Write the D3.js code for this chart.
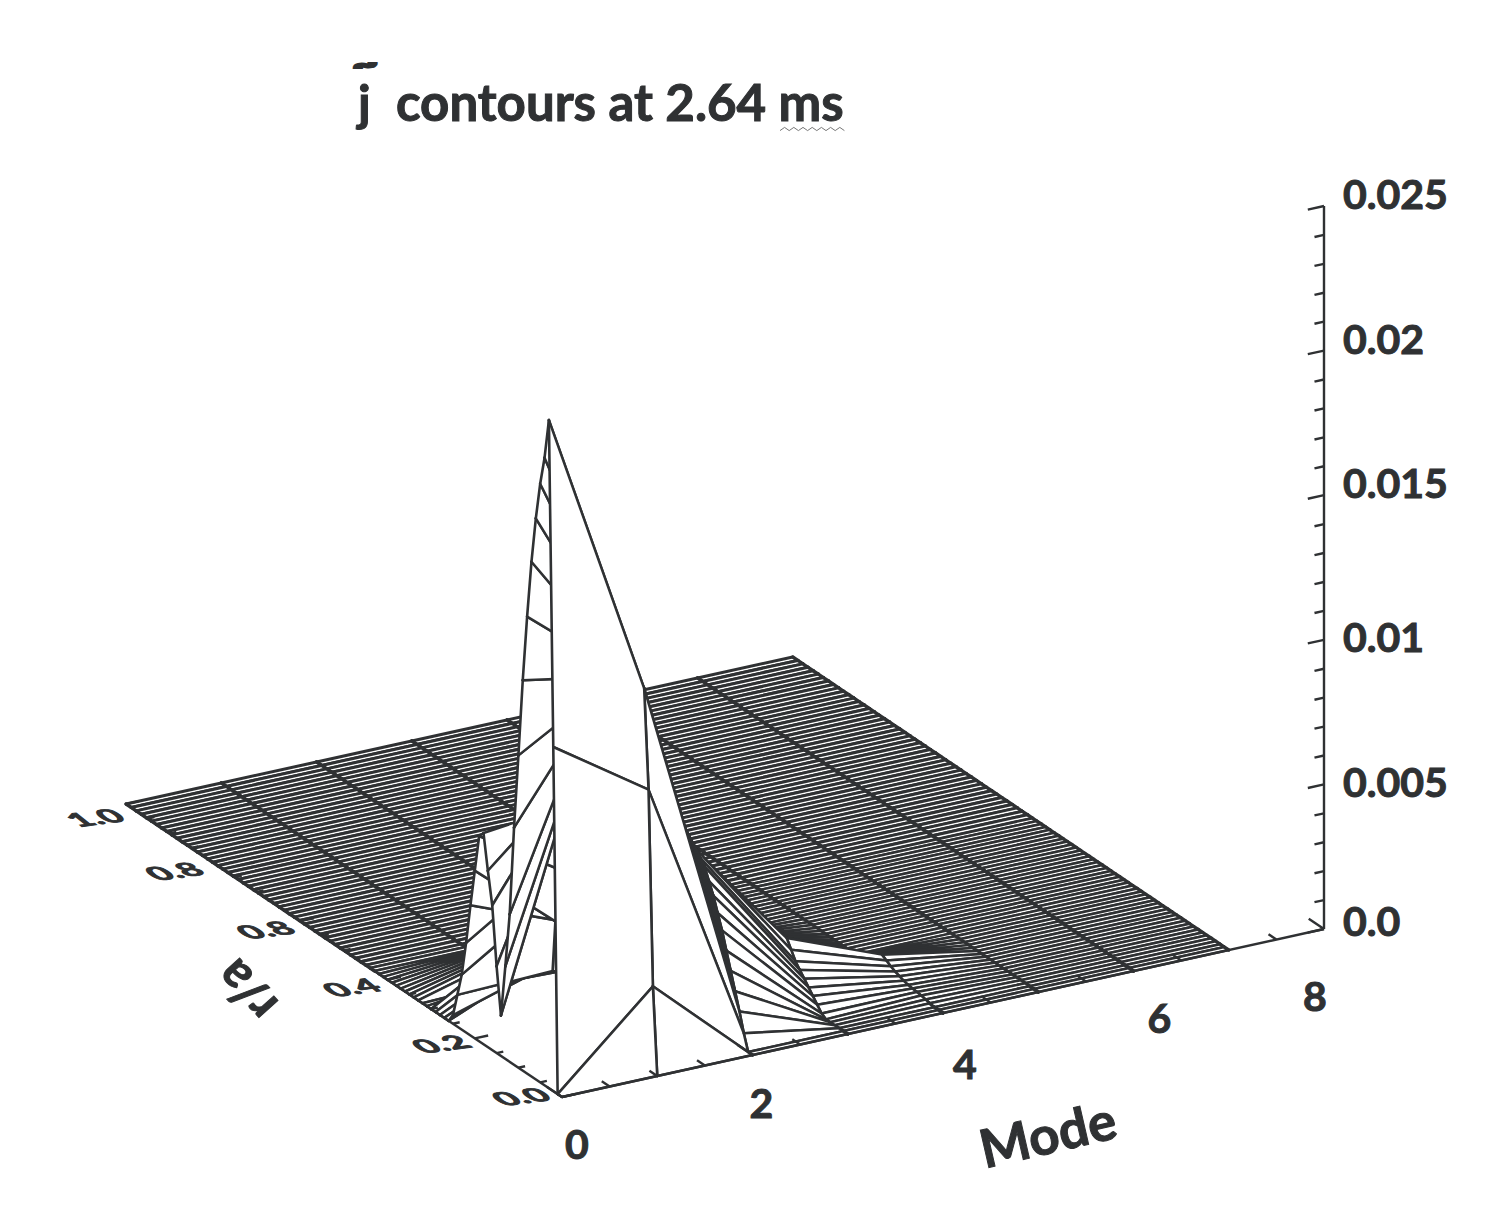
<!DOCTYPE html>
<html>
<head>
<meta charset="utf-8">
<script src="https://cdn.jsdelivr.net/npm/d3@7"></script>
<style>
  html, body { margin: 0; background: #fff; }
  text { font-family: Lato, "Open Sans", sans-serif; font-weight: 700; fill: #2f3133; stroke: #2f3133; stroke-width: 1; }
</style>
</head>
<body>
<div id="chart"></div>
<script>
// surface height per mode, one entry per radial grid point,
// everything past the listed points is flat zero
const mode0 = [0, 0, .0119, .0231, .0217, .0207, .0194, .0178, .0158, .0135, .0108, .0082, .0051, .0032, .0014,
  .0030, .0050, .0061, .0073, .0071, .0058, .0045, .0031, .0019, .0011, .0003];
const mode1 = [0, .0030, .0097, .0131, .0133, .0133, .0133, .0132, .0131, .0129, .0127, .0127, .0129, .0122, .0116,
  .0108, .0097, .0090, .0077, .0050, .0030, .0032, .0052, .0040, .0012, .0013, .0014, .0015, .0016, .0018,
  .0019, .0004, .0001, .0009, .0009, .0008, .0007, .0006, .0005, .0004, .0003, .0002, .0001];
const mode2 = [0, 0, .00055, .0012, .0018, .0024, .0030, .0036, .0041, .0046, .0050, .0054, .0056, .0058, .0058,
  .0050, .0040, .0030, .0022, .0015, .0010, .0006, .0003];
const mode3 = [0, 0, 0, 0, 0, 0, .0001, .0003, .0005, .0007, .0009, .0011, .0013, .0016, .0019,
  .0018, .0017, .0016, .0015, .0014, .0013, .0012, .0011, .0010, .0009, .0008, .0007, .0006, .0005, .0004,
  .0003, .0002, .0001];
const mode4 = [0, 0, 0, .00003, .00006, .0001, .00012, .00014, .00016, .0002, .00026, .00032, .0004, .0005, .0006,
  .0005, .0004, .0003, .0002, .0001];
const mode5 = [];
const mode6 = [];
const mode7 = [];
const surface = [mode0, mode1, mode2, mode3, mode4, mode5, mode6, mode7];

const modeGrid = [0, 1, 2, 3, 4, 5, 6, 7];
// radial grid: fine up to r/a = 0.45, a bit coarser out to the edge
const rGrid = d3.range(0, 45).map((i) => i / 100)
  .concat(d3.range(0, 48).map((i) => .45 + (i * .55) / 47));

const zTickLabels = ["0.0", "0.005", "0.01", "0.015", "0.02", "0.025"];
const zTickValues = [0, .005, .01, .015, .02, .025];
const modeTickLabels = ["0", "2", "4", "6", "8"];
const rTickLabels = ["0.0", "0.2", "0.4", "0.8", "0.8", "1.0"];
const rTickValues = [0, .2, .4, .6, .8, 1];

const width = 1495, height = 1212;
const ink = "#2f3133";

const svg = d3.select("#chart").append("svg")
  .attr("width", width)
  .attr("height", height)
  .style("display", "block");

// oblique projection: each data axis moves the point along its own screen direction
const modeX = d3.scaleLinear().domain([0, 8]).range([0, 762]);
const modeY = d3.scaleLinear().domain([0, 8]).range([0, -168]);
const rX = d3.scaleLinear().domain([0, 1]).range([0, -436]);
const rY = d3.scaleLinear().domain([0, 1]).range([0, -293]);
const zY = d3.scaleLinear().domain([0, .025]).range([0, -723]);
const origin = [562, 1097];

function project(m, r, z) {
  return [origin[0] + modeX(m) + rX(r), origin[1] + modeY(m) + rY(r) + zY(z)];
}

function heightAt(k, i) {
  const v = surface[k][i];
  return v === undefined ? 0 : v;
}

// faces back to front so nearer ones hide the ones behind
const faces = [];
for (let i = rGrid.length - 2; i >= 0; i--) {
  for (let k = modeGrid.length - 2; k >= 0; k--) {
    const zs = [heightAt(k, i), heightAt(k + 1, i), heightAt(k + 1, i + 1), heightAt(k, i + 1)];
    faces.push({
      flat: d3.max(zs) === 0,
      // keeps the floor stripes the same grey where the grid is finer
      hatch: i < 45 ? 2.55 : 3,
      a: project(modeGrid[k], rGrid[i], zs[0]),
      b: project(modeGrid[k + 1], rGrid[i], zs[1]),
      c: project(modeGrid[k + 1], rGrid[i + 1], zs[2]),
      d: project(modeGrid[k], rGrid[i + 1], zs[3]),
    });
  }
}

const line = d3.line();
const gSurface = svg.append("g").attr("stroke-linejoin", "round").attr("stroke-linecap", "round");
faces.forEach((f) => {
  gSurface.append("path")
    .attr("d", line([f.a, f.b, f.c, f.d]) + "Z")
    .attr("fill", "#fff")
    .attr("stroke", "none");
  gSurface.append("path")
    .attr("d", line([f.a, f.b]) + line([f.d, f.c]))
    .attr("fill", "none")
    .attr("stroke", ink)
    .attr("stroke-width", f.flat ? f.hatch : 2.5);
  gSurface.append("path")
    .attr("d", line([f.a, f.d]) + line([f.b, f.c]))
    .attr("fill", "none")
    .attr("stroke", ink)
    .attr("stroke-width", f.flat ? 3.4 : 2.6);
});

// axes
const gAxes = svg.append("g").attr("stroke", ink).attr("fill", "none").attr("stroke-width", 2.4);
gAxes.append("path").attr("d", line([project(0, 0, 0), project(8, 0, 0)]));
gAxes.append("path").attr("d", line([project(0, 0, 0), project(0, 1, 0)]));
gAxes.append("path").attr("d", line([project(8, 0, 0), project(8, 0, .025)]));

// mode ticks lean along r, r ticks along mode, z ticks back along mode
d3.range(0, 8.01, .5).forEach((m) => {
  const major = m % 2 === 0;
  gAxes.append("path").attr("d", line([project(m, 0, 0), project(m, major ? .035 : .018, 0)]));
});
d3.range(0, 1.001, .05).forEach((r) => {
  const major = Math.abs(r * 5 - Math.round(r * 5)) < 1e-6;
  gAxes.append("path").attr("d", line([project(0, r, 0), project(major ? .14 : .07, r, 0)]));
});
d3.range(0, .02501, .001).forEach((z) => {
  const major = Math.abs(z / .005 - Math.round(z / .005)) < 1e-6;
  gAxes.append("path").attr("d", line([project(8, 0, z), project(major ? 7.83 : 7.9, 0, z)]));
});

// text
const zLabelNudge = [7, 13, 12, 3, 3, 3];
svg.append("g").selectAll("text")
  .data(zTickLabels)
  .join("text")
  .attr("x", 1343)
  .attr("y", (d, i) => project(8, 0, zTickValues[i])[1] + zLabelNudge[i])
  .attr("font-size", 41)
  .text((d) => d);

const modeLabelNudge = [[15, 62], [9, 63], [22, 66], [26, 62], [-9, 82]];
svg.append("g").selectAll("text")
  .data(modeTickLabels)
  .join("text")
  .attr("text-anchor", "middle")
  .attr("x", (d, i) => project(+d, 0, 0)[0] + modeLabelNudge[i][0])
  .attr("y", (d, i) => project(+d, 0, 0)[1] + modeLabelNudge[i][1])
  .attr("font-size", 41)
  .text((d) => d);

// r/a tick labels lie in the floor plane, flattened and sheared like the 3D plot
const rLabelNudge = [[-33, 6], [-26, 12], [-28, 14], [-27, 15], [-31, 15], [-23, 20]];
svg.append("g").selectAll("text")
  .data(rTickLabels)
  .join("text")
  .attr("text-anchor", "middle")
  .attr("font-size", 24)
  .attr("transform", (d, i) => {
    const p = project(0, rTickValues[i], 0);
    const x = p[0] + rLabelNudge[i][0], y = p[1] + rLabelNudge[i][1];
    return `matrix(1.5,-0.2,0.9,0.72,${x},${y})`;
  })
  .text((d) => d);

svg.append("text")
  .attr("transform", "translate(247,990) rotate(-132)")
  .attr("text-anchor", "middle")
  .attr("font-size", 50)
  .attr("dy", 16)
  .text("r/a");

svg.append("text")
  .attr("transform", "translate(1052,1153) rotate(-13)")
  .attr("text-anchor", "middle")
  .attr("font-size", 53)
  .text("Mode");

svg.append("text").attr("x", 396).attr("y", 121).attr("font-size", 51).text("contours at 2.64 ms");
svg.append("text").attr("x", 358).attr("y", 121).attr("font-size", 50).text("j");
// tilde: small font stretched wide so it stays clear above the j
svg.append("text")
  .attr("transform", "translate(354,71) scale(3.2,1.5)")
  .attr("font-size", 12)
  .style("stroke-width", 2)
  .text("~");

// spell-check squiggle under "ms"
const squiggle = d3.range(0, 15).map((k) => [780 + k * 4.6, 129 + (k % 2 ? -1.6 : 1.6)]);
svg.append("path")
  .attr("d", line(squiggle))
  .attr("fill", "none")
  .attr("stroke", "#777")
  .attr("stroke-width", 1);
</script>
</body>
</html>
